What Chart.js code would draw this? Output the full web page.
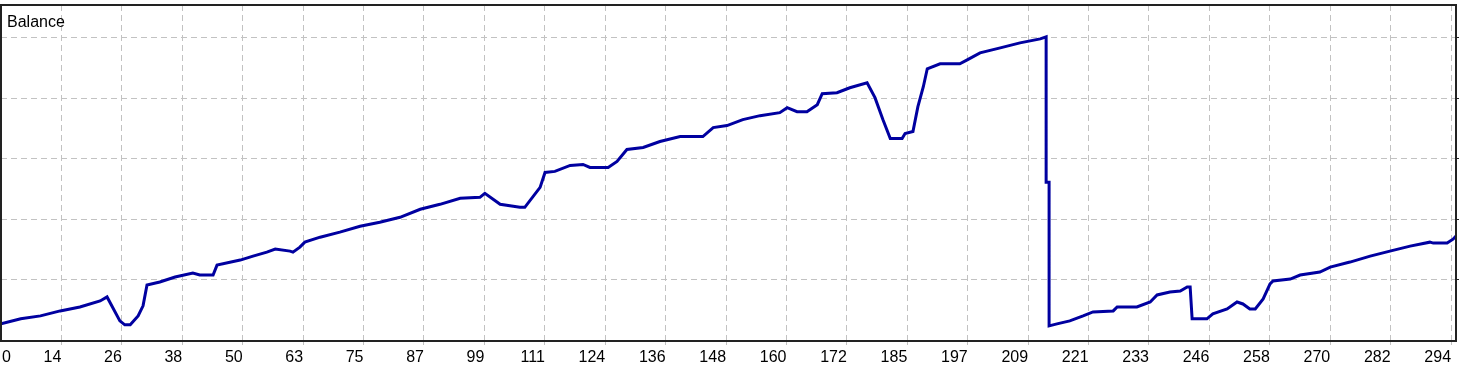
<!DOCTYPE html>
<html>
<head>
<meta charset="utf-8">
<script src="https://cdn.jsdelivr.net/npm/chart.js@4/dist/chart.umd.min.js"></script>
<style>
  html, body { margin: 0; padding: 0; background: #fff; }
  #wrap { width: 1460px; height: 370px; }
</style>
</head>
<body>
<div id="wrap"><canvas id="balance-chart" width="1460" height="370"></canvas></div>
<script>
// Trade number and balance after that trade
const trade = [
  0, 4, 8, 12, 16, 20.1, 21.5, 24.1, 25.1, 26.2, 27.8, 28.8, 29.6, 32.2, 35.3, 38.9, 40.3, 43, 43.8, 48.5,
  51.1, 53.9, 55.6, 58.6, 59.2, 60.6, 61.6, 64.7, 68.7, 72.8, 76.8, 80.9, 85, 89, 93.1, 97.1, 98.1, 101.2, 105.2, 106.2,
  109.3, 110.3, 112.3, 115.4, 118, 119.4, 123.1, 124.9, 126.9, 130.2, 133.6, 137.7, 142.3, 144.4, 147.2, 150.4, 153.9, 157.9, 159.4, 161.4,
  163.4, 165.5, 166.5, 169.5, 172.1, 175.6, 177.2, 178.8, 180.3, 182.7, 183.3, 184.9, 185.9, 187, 187.8, 190.4, 194.4, 195.9, 198.5, 202.6,
  206.6, 210.7, 211.9, 211.9, 212.5, 212.5, 214.1, 216.7, 219.4, 221.4, 225.5, 226.3, 230.3, 233, 234.4, 237, 239.1, 240.5, 241.1, 241.5,
  244.5, 245.7, 248.6, 250.6, 251.8, 253.2, 254.3, 255.9, 257.3, 257.9, 261.4, 263.4, 267.4, 269.5, 273.5, 277.6, 281.6, 285.7, 289.7, 290.4,
  293.2, 294.4, 295
];
const balance = [
  273, 356, 405, 487, 553, 652, 718, 323, 257, 257, 405, 570, 915, 965, 1047, 1113, 1080, 1080, 1244, 1327,
  1393, 1458, 1508, 1475, 1458, 1541, 1623, 1705, 1788, 1886, 1952, 2034, 2166, 2248, 2347, 2364, 2430, 2248, 2199, 2199,
  2528, 2775, 2792, 2890, 2907, 2857, 2857, 2956, 3154, 3187, 3285, 3368, 3368, 3516, 3549, 3648, 3713, 3763, 3845, 3779,
  3779, 3894, 4076, 4092, 4174, 4257, 4010, 3648, 3335, 3335, 3417, 3450, 3862, 4191, 4487, 4569, 4569, 4635, 4750, 4833,
  4915, 4981, 5014, 2611, 2611, 240, 273, 323, 405, 471, 487, 553, 553, 635, 751, 800, 816, 882, 882, 356,
  356, 438, 520, 635, 602, 520, 520, 685, 932, 981, 1014, 1080, 1129, 1211, 1294, 1393, 1475, 1557, 1623, 1607,
  1607, 1672, 1722
];

// Axis labels
const xTickLabels = ['0', '14', '26', '38', '50', '63', '75', '87', '99', '111', '124', '136', '148',
  '160', '172', '185', '197', '209', '221', '233', '246', '258', '270', '282', '294'];
const yGridValues = [1000, 2000, 3000, 4000, 5000];

const labelFont = { family: '"Liberation Sans", Arial, sans-serif', size: 16 };
const gridGray = '#c2c2c2';

// Frame around the plot plus the "Balance" caption
const framePlugin = {
  id: 'frame',
  afterDraw(chart) {
    const { ctx, chartArea: a } = chart;
    ctx.save();
    ctx.strokeStyle = '#222';
    ctx.lineWidth = 2;
    ctx.strokeRect(a.left, a.top, a.right - a.left, a.bottom - a.top);
    ctx.fillStyle = '#000';
    ctx.font = '16px "Liberation Sans", Arial, sans-serif';
    ctx.textBaseline = 'alphabetic';
    ctx.fillText('Balance', a.left + 6, a.top + 22);
    ctx.restore();
  }
};

const ctx = document.getElementById('balance-chart');
const balanceChart = new Chart(ctx, {
  type: 'line',
  data: {
    datasets: [{
      label: 'Balance',
      data: trade.map((t, i) => ({ x: t, y: balance[i] })),
      borderColor: '#0000a0',
      borderWidth: 3,
      pointRadius: 0,
      tension: 0,
      fill: false
    }]
  },
  options: {
    responsive: false,
    animation: false,
    layout: { padding: { left: 1, top: 5, right: 0, bottom: 0 } },
    plugins: {
      legend: { display: false },
      tooltip: { enabled: false }
    },
    scales: {
      x: {
        type: 'linear',
        min: 0,
        max: 295,
        afterBuildTicks: scale => {
          // first label sits just inside the frame, the rest on the grid
          scale.ticks = xTickLabels.map((l, i) => ({ value: i === 0 ? 2 : i * 294 / 24 }));
        },
        afterFit: scale => {
          scale.height = 29;
          scale.paddingLeft = 0;
          scale.paddingRight = 0;
        },
        ticks: {
          align: 'end',
          autoSkip: false,
          maxRotation: 0,
          padding: 3,
          color: '#000',
          font: labelFont,
          callback: (v, i) => xTickLabels[i]
        },
        grid: {
          color: c => c.index === 0 ? 'rgba(0,0,0,0)' : gridGray,
          tickColor: c => c.index === 0 ? 'rgba(0,0,0,0)' : gridGray,
          lineWidth: 1,
          tickLength: 4
        },
        border: { display: false, dash: [6, 4] }
      },
      y: {
        position: 'right',
        min: -10,
        max: 5541,
        afterBuildTicks: scale => {
          scale.ticks = yGridValues.map(v => ({ value: v }));
        },
        afterFit: scale => {
          scale.width = 4;
          scale.paddingTop = 0;
          scale.paddingBottom = 0;
        },
        ticks: { display: false },
        grid: {
          color: gridGray,
          tickColor: '#222',
          lineWidth: 1,
          tickLength: 3
        },
        border: { display: false, dash: [6, 4] }
      }
    }
  },
  plugins: [framePlugin]
});
</script>
</body>
</html>
